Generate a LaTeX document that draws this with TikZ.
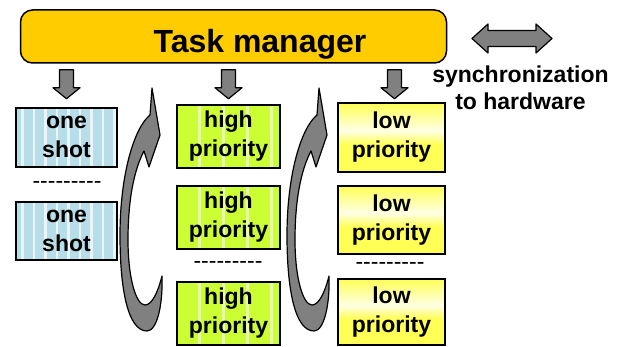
\documentclass[tikz,border=0pt]{standalone}
\usepackage{fontspec}
\setmainfont{Liberation Sans}
\newfontfamily\dashfont[Ligatures=TeXOff]{Liberation Sans}
\usetikzlibrary{calc}
\definecolor{tmgold}{HTML}{FFCC00}
\definecolor{arrowgray}{HTML}{808080}
\definecolor{shotblue}{HTML}{B7DEE8}
\definecolor{highlime}{HTML}{CCFF33}
\definecolor{lowyellow}{HTML}{FFFF55}
\pgfdeclareverticalshading{lowshade}{100bp}{color(0bp)=(lowyellow); color(25bp)=(lowyellow);
  color(45bp)=(lowyellow); color(55bp)=(white!85!lowyellow); color(75bp)=(lowyellow);
  color(100bp)=(lowyellow)}
\begin{document}
\begin{tikzpicture}[x=1pt,y=-1pt,
  blk/.style={fill=arrowgray, draw=black, line width=1.2pt, line join=round},
  taskbox/.style={draw=black, line width=1.5pt, inner sep=0pt,
    font=\fontsize{23}{29}\selectfont\bfseries, align=center},
  shotbox/.style={taskbox, fill=shotblue, minimum width=101pt,
    path picture={\foreach \i in {0,...,8}{\fill[white,opacity=.7]
      ([xshift=\i*11.5pt+5pt,yshift=2pt]path picture bounding box.north west) rectangle
      ([xshift=\i*11.5pt+7.5pt,yshift=-2pt]path picture bounding box.south west);}}},
  highbox/.style={taskbox, fill=highlime, minimum width=103pt, minimum height=63pt,
    path picture={\foreach \i in {0,...,3}{\fill[white,opacity=.55]
      ([xshift=\i*24pt+21pt,yshift=2pt]path picture bounding box.north west) rectangle
      ([xshift=\i*24pt+24pt,yshift=-2pt]path picture bounding box.south west);}}},
  lowbox/.style={taskbox, shading=lowshade, shade, minimum width=107pt},
  dashtext/.style={font=\fontsize{23}{27}\selectfont\dashfont, inner sep=0pt},
  downarr/.pic={\draw[blk] (-7,0) -- (7,0) -- (7,18) -- (13.5,18) -- (0,29)
      -- (-13.5,18) -- (-7,18) -- cycle;},
  cycarrow/.pic={\draw[blk] (162,276) .. controls (163,305) and (157,331) .. (147,331)
      .. controls (128,331) and (120,290) .. (120,235)
      .. controls (120,175) and (134,128) .. (150,115)
      -- (152,88) -- (160,135) -- (149,167) -- (144,151)
      .. controls (134,170) and (128,200) .. (128,240)
      .. controls (128,278) and (136,305) .. (145,305)
      .. controls (152,305) and (158,292) .. (162,276) -- cycle;}
]
\useasboundingbox (0,0) rectangle (621,347);

% task manager
\node[draw=black, line width=1.5pt, fill=tmgold, rounded corners=12pt,
  minimum width=426pt, minimum height=53pt, inner sep=0pt] (tm) at (233.5,36.5) {};
\node[anchor=base, inner sep=0pt, font=\fontsize{32}{38}\selectfont\bfseries]
  (tmlabel) at (260,53) {Task manager};

% synchronization
\draw[blk] (472,38.5) -- (488,24) -- (488,30.5) -- (536,30.5) -- (536,24) -- (552,38.5)
  -- (536,53) -- (536,46.5) -- (488,46.5) -- (488,53) -- cycle;
\node[inner sep=0pt, align=center, font=\fontsize{23}{27}\selectfont\bfseries]
  (sync) at (520.5,91) {\strut synchronization\\to hardware\strut};

% one shot column
\node[shotbox, minimum height=59pt] (os1) at (66.5,137.5) {\strut one\\shot\strut};
\node[dashtext] (osd) at (67,185) {---------};
\node[shotbox, minimum height=58pt] (os2) at (66.5,231) {\strut one\\shot\strut};

% high priority column
\node[highbox] (hp1) at (228.5,136.5) {\strut high\\priority\strut};
\node[highbox] (hp2) at (228.5,217.5) {\strut high\\priority\strut};
\node[dashtext] (hpd) at (228,265) {---------};
\node[highbox] (hp3) at (228.5,313.5) {\strut high\\priority\strut};

% low priority column
\node[lowbox, minimum height=69pt] (lp1) at (391.5,137.5) {\strut low\\priority\strut};
\node[lowbox, minimum height=68pt] (lp2) at (391.5,220) {\strut low\\priority\strut};
\node[dashtext] (lpd) at (390,266) {---------};
\node[lowbox, minimum height=66pt] (lp3) at (391.5,312) {\strut low\\priority\strut};

% arrows from task manager
\pic at ([yshift=-6pt]os1.north |- tm.south) {downarr};
\pic at ([yshift=-6pt]hp1.north |- tm.south) {downarr};
\pic at ([yshift=-6pt,xshift=3pt]lp1.north |- tm.south) {downarr};

% cyclic arrows
\pic at (0,0) {cycarrow};
\pic at (167,0) {cycarrow};
\end{tikzpicture}
\end{document}
